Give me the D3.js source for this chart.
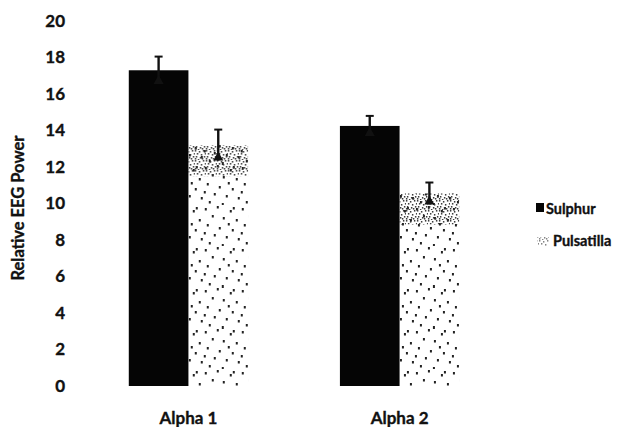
<!DOCTYPE html>
<html>
<head>
<meta charset="utf-8">
<script src="https://cdn.jsdelivr.net/npm/d3@7"></script>
<style>
  body { margin: 0; background: #fff; }
  text { font-family: Lato, "Open Sans", sans-serif; font-weight: bold; fill: #111; stroke: #111; stroke-width: 0.35px; }
</style>
</head>
<body>
<div class="graph-div"></div>
<script>
var categories = ["Alpha 1", "Alpha 2"];
var seriesNames = ["Sulphur", "Pulsatilla"];
var sulphur = [17.3, 14.25];
var sulphurErr = [0.75, 0.55];
var pulsatilla = [13.2, 10.55];
var pulsatillaErr = [0.85, 0.6];
var yTickValues = [0, 2, 4, 6, 8, 10, 12, 14, 16, 18, 20];

var outerWidth = 626;
var outerHeight = 427;

var svg = d3.select(".graph-div").append("svg")
    .attr("width", outerWidth)
    .attr("height", outerHeight);

svg.append("rect").attr("width", outerWidth).attr("height", outerHeight).attr("fill", "#fff");

// stipple textures for the Pulsatilla bars
var defs = svg.append("defs");
var sparse = defs.append("pattern").attr("id", "sparse")
    .attr("patternUnits", "userSpaceOnUse").attr("width", 37).attr("height", 41);
[[2,3],[14,1],[27,5],[9,10],[20,12],[33,14],[4,19],[16,22],[29,24],
 [11,29],[23,31],[35,33],[6,37],[19,39],[30,2],[1,27],[25,18]].forEach(function(p) {
  sparse.append("rect").attr("x", p[0]).attr("y", p[1]).attr("width", 2).attr("height", 2.5).attr("fill", "#222");
});
var dense = defs.append("pattern").attr("id", "dense")
    .attr("patternUnits", "userSpaceOnUse").attr("width", 11).attr("height", 10);
[[0,0],[4,1],[8,0],[2,3],[6,4],[10,3],[1,6],[5,7],[9,6],[3,9],[7,8],[0,8]].forEach(function(p) {
  dense.append("rect").attr("x", p[0]).attr("y", p[1]).attr("width", 1.4).attr("height", 1.6).attr("fill", "#333");
});

var x0 = d3.scaleBand().domain(categories).range([76, 512]).paddingInner(0.435).paddingOuter(0.25);
var x1 = d3.scaleBand().domain(seriesNames).range([0, x0.bandwidth()]);
var y = d3.scaleLinear().domain([0, 20]).range([386, 21]);

// y axis labels
var yAxisG = svg.append("g").attr("transform", "translate(72,0)")
    .call(d3.axisLeft(y).tickValues(yTickValues).tickSize(0).tickPadding(7));
yAxisG.select(".domain").remove();
yAxisG.selectAll("text").style("font-family", "Lato, sans-serif").style("font-weight", "bold")
    .style("font-size", "17px").attr("fill", "#111");

// x axis labels
var xAxisG = svg.append("g").attr("transform", "translate(0,386)")
    .call(d3.axisBottom(x0).tickSize(0).tickPadding(26));
xAxisG.select(".domain").remove();
xAxisG.selectAll("text").style("font-family", "Lato, sans-serif").style("font-weight", "bold")
    .style("font-size", "17px").attr("fill", "#111");

svg.append("text")
    .attr("transform", "translate(24,208) rotate(-90)")
    .attr("text-anchor", "middle")
    .style("font-size", "16.5px")
    .text("Relative EEG Power");

var rows = categories.map(function(c, i) {
  return {cat: c, s: sulphur[i], se: sulphurErr[i], p: pulsatilla[i], pe: pulsatillaErr[i]};
});

var groups = svg.selectAll(".grp").data(rows).enter().append("g")
    .attr("class", "grp")
    .attr("transform", function(d) { return "translate(" + x0(d.cat) + ",0)"; });

// Sulphur bars
groups.append("rect")
    .attr("x", x1("Sulphur"))
    .attr("y", function(d) { return y(d.s); })
    .attr("width", x1.bandwidth())
    .attr("height", function(d) { return y(0) - y(d.s); })
    .attr("fill", "#050505");

// Pulsatilla bars: sparse stipple plus dense band at the top
groups.append("rect")
    .attr("x", x1("Pulsatilla"))
    .attr("y", function(d) { return y(d.p); })
    .attr("width", x1.bandwidth())
    .attr("height", function(d) { return y(0) - y(d.p); })
    .attr("fill", "url(#sparse)");
groups.append("rect")
    .attr("x", x1("Pulsatilla"))
    .attr("y", function(d) { return y(d.p); })
    .attr("width", x1.bandwidth())
    .attr("height", function(d) { return y(d.p - 1.7) - y(d.p); })
    .attr("fill", "url(#dense)");

// error bars
function errBars(key, errKey, name) {
  var cx = x1(name) + x1.bandwidth() / 2;
  groups.append("line")
      .attr("x1", cx).attr("x2", cx)
      .attr("y1", function(d) { return y(d[key] - d[errKey]); })
      .attr("y2", function(d) { return y(d[key] + d[errKey]); })
      .attr("stroke", "#111").attr("stroke-width", 2.4);
  groups.append("line")
      .attr("x1", cx - 4).attr("x2", cx + 4)
      .attr("y1", function(d) { return y(d[key] + d[errKey]); })
      .attr("y2", function(d) { return y(d[key] + d[errKey]); })
      .attr("stroke", "#111").attr("stroke-width", 2);
  groups.append("path")
      .attr("d", function(d) {
        var yb = y(d[key] - d[errKey]);
        return "M" + (cx - 5) + "," + yb + "L" + (cx + 5) + "," + yb + "L" + cx + "," + (yb - 9) + "Z";
      })
      .attr("fill", "#111");
}
errBars("s", "se", "Sulphur");
errBars("p", "pe", "Pulsatilla");

// legend
var legend = svg.append("g");
legend.append("rect").attr("x", 536).attr("y", 203).attr("width", 8).attr("height", 9).attr("fill", "#050505");
legend.append("text").attr("x", 546).attr("y", 214).style("font-size", "14.5px").text(seriesNames[0]);
legend.append("rect").attr("x", 537).attr("y", 237).attr("width", 12).attr("height", 9).attr("fill", "url(#dense)").attr("opacity", 0.6);
legend.append("text").attr("x", 553).attr("y", 246).style("font-size", "14.5px").text(seriesNames[1]);
</script>
</body>
</html>
